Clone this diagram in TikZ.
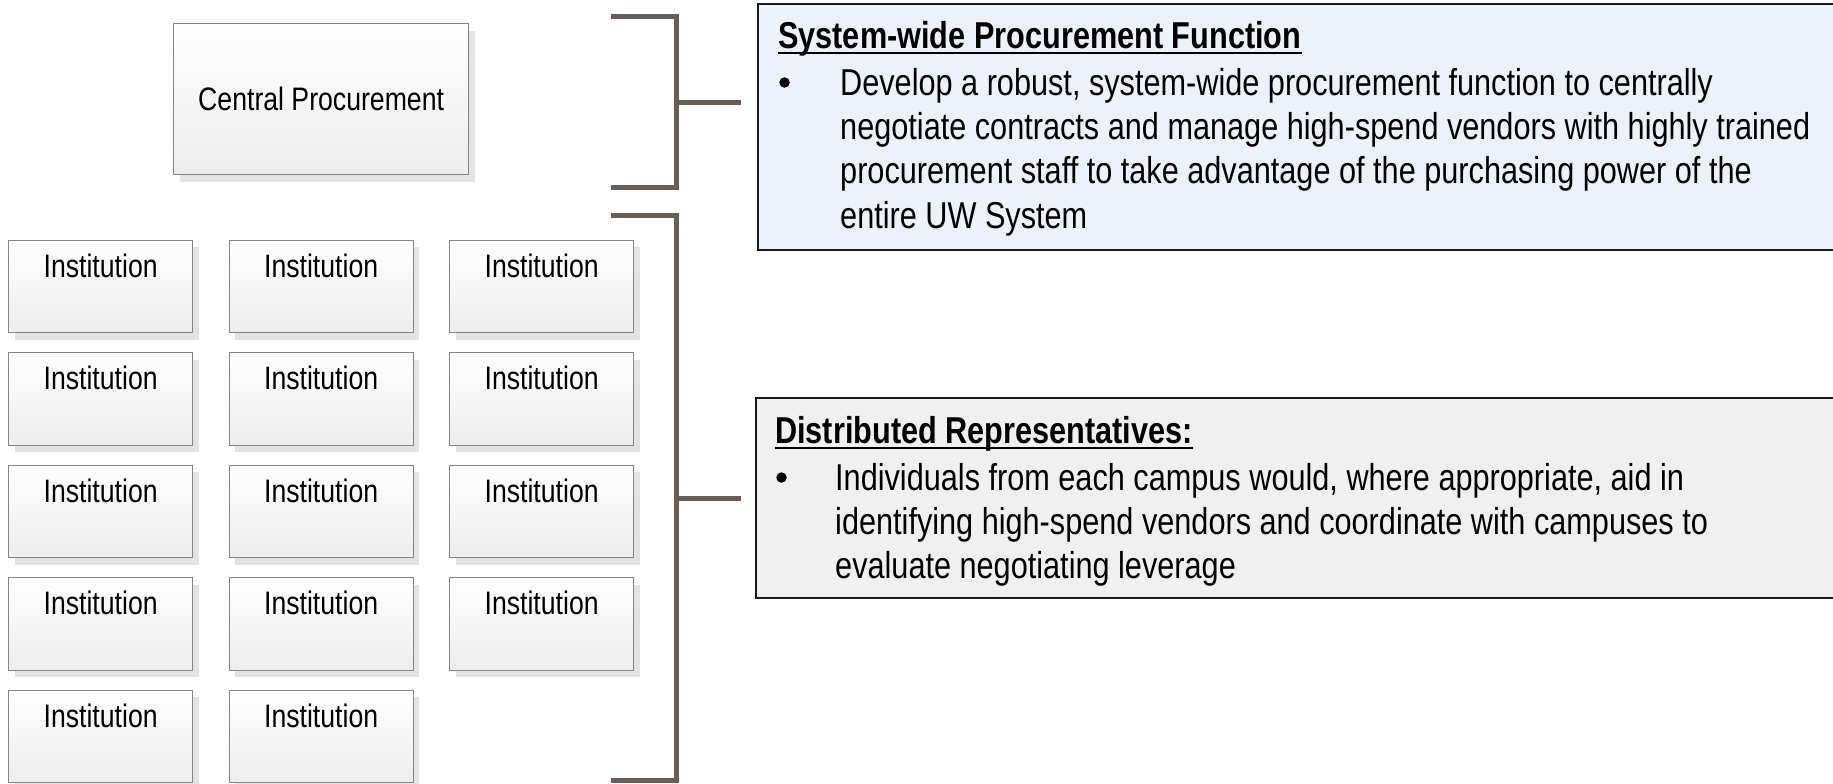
\documentclass[tikz,border=0pt]{standalone}
\usepackage{fontspec}
\setmainfont{Liberation Sans}[FakeStretch=0.82]
\usetikzlibrary{shadows}

\definecolor{bracketc}{HTML}{695D54}
\definecolor{boxedge}{HTML}{858585}
\definecolor{boxshadow}{HTML}{E3E3E3}
\definecolor{boxbottom}{HTML}{EDEDED}
\definecolor{sysfill}{HTML}{EDF1F9}
\definecolor{repfill}{HTML}{F0F0F0}

\tikzset{
  unitbox/.style={draw=boxedge, line width=1.3pt, top color=white, bottom color=boxbottom,
    general shadow={fill=boxshadow, shadow xshift=6pt, shadow yshift=-7pt},
    inner sep=0pt, anchor=north west},
  instbox/.style={unitbox, minimum width=184pt, minimum height=92.5pt},
  unittext/.style={inner sep=0pt, font=\fontsize{32.5}{39}\selectfont},
  infobox/.style={draw=black!90, line width=1.8pt, inner sep=0pt, anchor=north west},
  bodytext/.style={inner sep=0pt, anchor=base west, font=\fontsize{37.4}{44.4}\selectfont},
  headtext/.style={bodytext, font=\fontsize{37.4}{44.4}\selectfont\bfseries},
  bulletdot/.style={circle, fill=black, inner sep=0pt, minimum size=10.5pt},
  bracket/.style={draw=bracketc, line width=5pt, line join=miter, line cap=butt},
  headrule/.style={draw=black, line width=2pt}
}

\begin{document}
\begin{tikzpicture}[x=1pt,y=-1pt]
\useasboundingbox (0,0) rectangle (1833,784);

% central unit
\node[unitbox, minimum width=295pt, minimum height=151pt] (central) at (173,23)
  {\fontsize{32.5}{39}\selectfont Central Procurement};

% grid of institutions (14 boxes)
\foreach \r/\y in {1/239.5, 2/352, 3/464.5, 4/577, 5/689.5}{
  \foreach \c/\x in {1/8, 2/228.5, 3/449}{
    \ifnum\numexpr\r*10+\c\relax=53 \else
      \node[instbox] (inst-\r-\c) at (\x,\y) {};
      \node[unittext, anchor=base] (instlabel-\r-\c) at ([yshift=-37.6pt]inst-\r-\c.north) {Institution};
    \fi
  }
}

% description boxes
\node[infobox, fill=sysfill, minimum width=1090pt, minimum height=245.5pt] (sys) at (757,3.5) {};
\node[infobox, fill=repfill, minimum width=1092pt, minimum height=200pt] (rep) at (755,397) {};

% brackets and their ticks
\coordinate (b1top) at (611,16.5);
\coordinate (b1bot) at (611,187);
\coordinate (b1mid) at (676,102.5);
\coordinate (b1tip) at (741,102.5);
\coordinate (b2top) at (611,215);
\coordinate (b2bot) at (611,780);
\coordinate (b2mid) at (676,498);
\coordinate (b2tip) at (741,498);
\draw[bracket] (b1top) -| (b1mid) |- (b1bot);
\draw[bracket] (b1mid) -- (b1tip);
\draw[bracket] (b2top) -| (b2mid) |- (b2bot);
\draw[bracket] (b2mid) -- (b2tip);

% system-wide procurement text
\node[headtext] (sys-head) at (778,48.5) {System-wide Procurement Function};
\draw[headrule] ([yshift=-4.5pt]sys-head.base west) -- ([yshift=-4.5pt]sys-head.base east);
\node[bulletdot] (sys-bullet) at (784.5,82.5) {};
\node[bodytext] (sys-l1) at (840,95) {Develop a robust, system-wide procurement function to centrally};
\node[bodytext] (sys-l2) at (840,139.4) {negotiate contracts and manage high-spend vendors with highly trained};
\node[bodytext] (sys-l3) at (840,183.8) {procurement staff to take advantage of the purchasing power of the};
\node[bodytext] (sys-l4) at (840,228.2) {entire UW System};

% distributed representatives text
\node[headtext] (rep-head) at (775,443) {Distributed Representatives:};
\draw[headrule] ([yshift=-4.5pt]rep-head.base west) -- ([yshift=-4.5pt]rep-head.base east);
\node[bulletdot] (rep-bullet) at (781.5,477.5) {};
\node[bodytext] (rep-l1) at (835,490) {Individuals from each campus would, where appropriate, aid in};
\node[bodytext] (rep-l2) at (835,534.4) {identifying high-spend vendors and coordinate with campuses to};
\node[bodytext] (rep-l3) at (835,578.8) {evaluate negotiating leverage};
\end{tikzpicture}
\end{document}
